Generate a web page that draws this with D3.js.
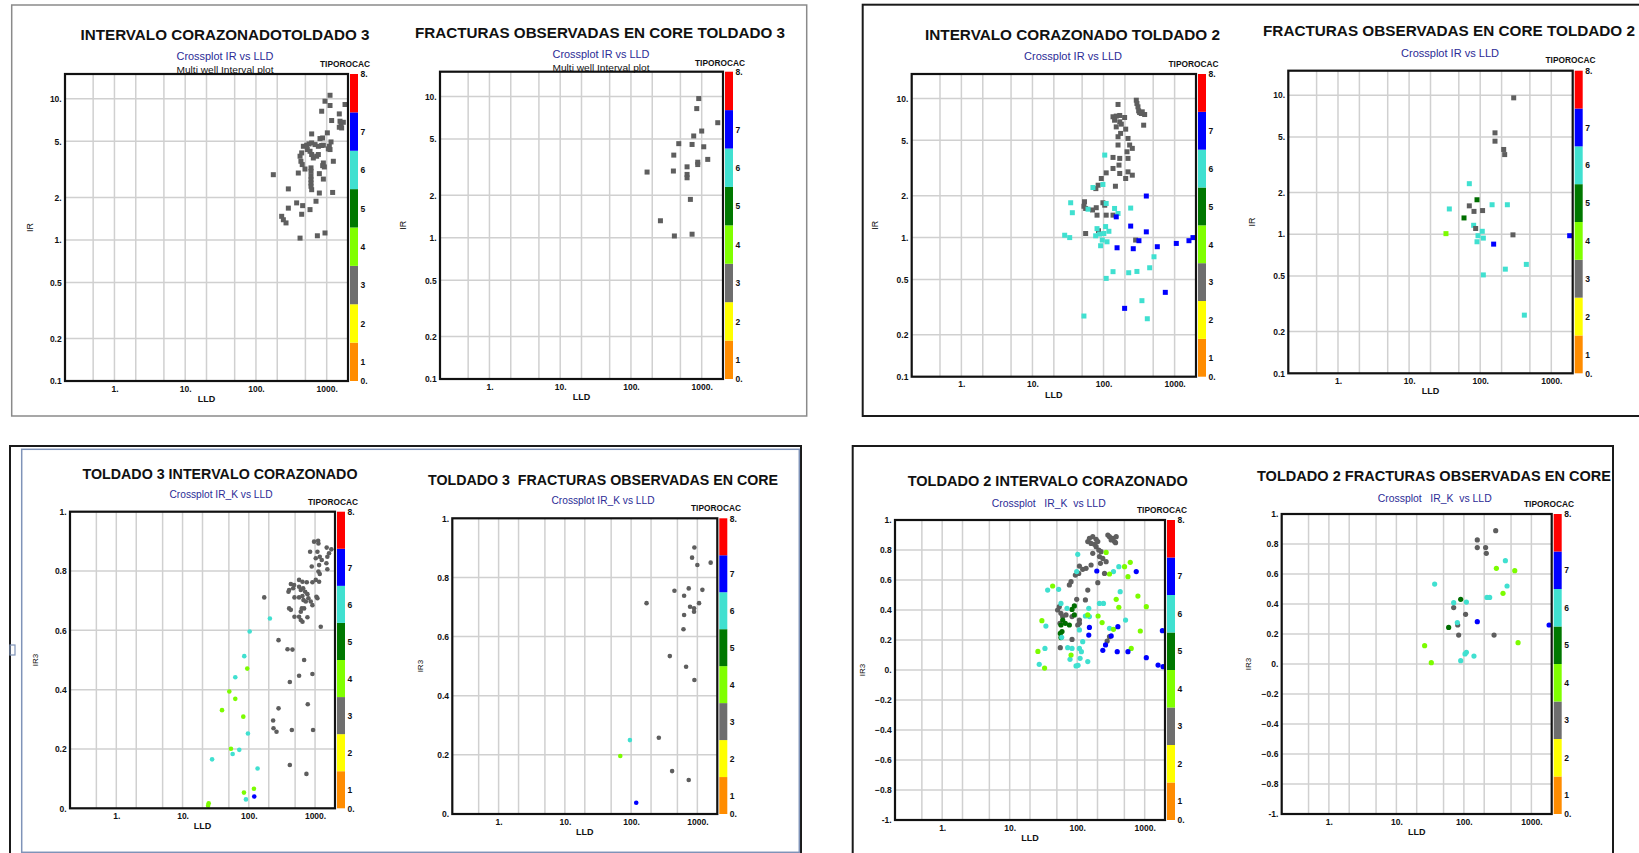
<!DOCTYPE html>
<html><head><meta charset="utf-8">
<script src="https://cdn.jsdelivr.net/npm/d3@7/dist/d3.min.js"></script>
<style>body{margin:0;background:#fff;}svg{display:block;font-family:"Liberation Sans",Arial,sans-serif;}</style>
</head><body><svg id="c" width="1639" height="853"></svg>
<script>
// ---------- axis / legend values ----------
const X_TICKS = [1, 10, 100, 1000];
const X_GRID = [0.5, 1, 2, 5, 10, 20, 50, 100, 200, 500, 1000];
const Y_TICKS_LOG = [0.1, 0.2, 0.5, 1, 2, 5, 10];
const Y_TICKS_01 = [0, 0.2, 0.4, 0.6, 0.8, 1];
const Y_TICKS_PM1 = [-1, -0.8, -0.6, -0.4, -0.2, 0, 0.2, 0.4, 0.6, 0.8, 1];
const TIPO_CLASSES = [1, 2, 3, 4, 5, 6, 7, 8];
const TIPO_COLORS = ["#ff8c00", "#ffff00", "#6e6e6e", "#80ff00", "#007800", "#40e0d0", "#0000ff", "#ff0000"];
const POINT_COLORS = {3: "#5e5e5e", 4: "#7cfc00", 5: "#006e00", 6: "#40e0d0", 7: "#0000ff"};

// ---------- data: [LLD, IR or IR3, TIPOROCAC] ----------
const T3_CORED_IR = [
 [1114,10.6,3],[946,9.62,3],[1114,8.97,3],[849,8.17,3],[1815,9.12,3],[1507,7.82,3],[1175,7.02,3],[1542,6.94,3],[1592,6.57,3],[1507,6.29,3],[1626,6.22,3],[1718,6.82,3],
 [613,5.64,3],[1021,5.74,3],[877,5.28,3],[804,5.23,3],[1151,4.95,3],[613,4.87,3],[562,4.79,3],[521,4.69,3],[468,4.61,3],[532,4.37,3],
 [684,4.74,3],[762,4.61,3],[849,4.67,3],[897,4.69,3],[1089,4.61,3],[1114,4.37,3],[1054,4.42,3],
 [420,3.92,3],[443,4.14,3],[432,3.61,3],[451,3.42,3],[493,3.18,3],[581,4.25,3],[613,4.03,3],[647,3.81,3],[721,3.92,3],[762,4.03,3],
 [897,3.51,3],[927,3.29,3],[877,3.36,3],[1241,3.61,3],[397,2.98,3],[176,2.90,3],
 [600,3.24,3],[600,3.06,3],[600,2.83,3],[600,2.67,3],[600,2.53,3],[600,2.40,3],[787,2.95,3],[897,2.70,3],[287,2.30,3],
 [613,2.27,3],[787,2.15,3],[1213,2.17,3],[376,1.83,3],[457,1.75,3],[287,1.68,3],[443,1.52,3],[581,1.64,3],[706,1.88,3],
 [231,1.47,3],[244,1.39,3],[266,1.32,3],[420,1.03,3],[738,1.07,3],[946,1.12,3]
];
const T3_CORE_FRACT_IR = [
 [908,9.68,3],[851,8.22,3],[1686,6.53,3],[1000,5.7,3],[771,5.26,3],[474,4.64,3],[731,4.58,3],[1069,4.41,3],[403,3.85,3],[1217,3.59,3],
 [879,3.43,3],[879,3.3,3],[621,3.18,3],[621,2.81,3],[621,2.66,3],[169,2.92,3],[398,2.97,3],[692,1.87,3],[261,1.32,3],[411,1.03,3],[731,1.06,3]
];
const T2_CORED_IR = [
 [160,9.06,3],[289,9.72,3],[295,9.21,3],[305,8.71,3],[312,8.15,3],[340,7.8,3],[379,7.67,3],[351,8.02,3],[322,7.93,3],[367,6.43,3],
 [136,7.39,3],[151,7.47,3],[169,7.55,3],[198,7.3,3],[143,6.98,3],[169,6.79,3],[151,6.25,3],[178,6.54,3],[205,6.02,3],[174,5.61,3],
 [160,5.31,3],[221,5.16,3],[233,4.63,3],[254,4.38,3],[160,4.63,3],[214,4.14,3],[136,3.77,3],[169,3.71,3],[221,3.71,3],[165,3.32,3],
 [136,3.14,3],[109,2.92,3],[93,2.66,3],[84,2.38,3],[78,2.25,3],[169,2.89,3],[221,2.97,3],[254,2.81,3],[205,2.66,3],[147,2.34,3],
 [54,1.81,3],[53,1.68,3],[56,1.62,3],[79,1.64,3],[70,1.58,3],[98,1.78,3],[104,1.71,3],[81,1.45,3],[109,1.45,3],[136,1.45,3],[56,1.07,3],[85,1.12,3],[283,0.96,3],
 [104,3.92,6],[71,2.29,6],[98,2.41,6],[34.5,1.78,6],[36.4,1.51,6],[60.5,1.6,6],[109,1.76,6],[143,1.62,6],[160,1.49,6],[241,1.63,6],
 [81,1.16,6],[107,1.2,6],[119,1.11,6],[28.4,1.04,6],[33.4,1.0,6],[77.5,1.03,6],[88,1.06,6],[96,0.96,6],[112,0.933,6],[91,0.874,6],
 [101,1.07,6],[513,0.728,6],[446,0.607,6],[136,0.569,6],[226,0.559,6],[295,0.571,6],[109,0.509,6],[347,0.352,6],[53,0.273,6],[413,0.261,6],
 [400,1.99,7],[151,1.41,7],[241,1.21,7],[400,1.1,7],[315,0.95,7],[155,0.845,7],[262,0.832,7],[571,0.86,7],[1057,0.908,7],[1592,0.95,7],
 [1813,1.0,7],[740,0.404,7],[198,0.31,7]
];
const T2_CORE_FRACT_IR = [
 [296,9.57,3],[161.5,5.36,3],[161.5,4.67,3],[214,4.07,3],[221,3.74,3],[70.3,2.31,6],[90.2,1.77,5],[70.3,1.60,3],[81.8,1.46,3],[108,1.48,3],
 [147,1.63,6],[241,1.63,6],[36.8,1.52,6],[59.2,1.31,5],[80.9,1.16,6],[86.3,1.10,3],[33.0,1.01,4],[107,1.05,6],[93.1,0.976,6],[110.7,0.938,6],
 [90.2,0.883,6],[289,0.99,3],[154.6,0.849,7],[1813,0.976,7],[225.6,0.561,6],[445.6,0.607,6],[110.7,0.51,6],[417.8,0.262,6]
];
const T3_CORED_IRK = [
 [966,0.899,3],[1112,0.902,3],[1125,0.893,3],[842,0.865,3],[1086,0.865,3],[1499,0.879,3],[1762,0.873,3],[1626,0.860,3],[1025,0.843,3],[1178,0.848,3],
 [1262,0.837,3],[1534,0.848,3],[891,0.815,3],[1151,0.820,3],[1483,0.826,3],[1534,0.806,3],[1125,0.798,3],[1178,0.790,3],[1025,0.770,3],[1151,0.764,3],
 [1086,0.708,3],[574,0.770,3],[646,0.764,3],[750,0.762,3],[912,0.762,3],[431,0.756,3],[483,0.753,3],[467,0.742,3],[406,0.736,3],[397,0.730,3],
 [574,0.747,3],[609,0.736,3],[661,0.742,3],[708,0.730,3],[767,0.722,3],[794,0.708,3],[861,0.697,3],[912,0.685,3],[1049,0.713,3],[489,0.711,3],
 [574,0.711,3],[646,0.716,3],[668,0.702,3],[725,0.697,3],[631,0.674,3],[609,0.663,3],[574,0.646,3],[609,0.635,3],[646,0.629,3],[767,0.644,3],
 [684,0.674,3],[406,0.674,3],[431,0.669,3],[489,0.646,3],[171,0.711,3],[1219,0.612,3],[281,0.567,3],[384,0.536,3],[456,0.535,3],[684,0.5,3],
 [574,0.447,3],[912,0.453,3],[416,0.426,3],[776,0.351,3],[281,0.337,3],[233,0.296,3],[236,0.270,3],[262,0.258,3],[446,0.264,3],[933,0.264,3],
 [416,0.146,3],[741,0.116,3],
 [208,0.640,6],[103,0.596,6],[85.4,0.513,6],[62.5,0.442,6],[97,0.252,6],[71.8,0.197,6],[57,0.183,6],[27.9,0.165,6],[135.6,0.134,6],[90.5,0.030,6],
 [94.8,0.471,4],[50.8,0.394,4],[62.5,0.369,4],[39.4,0.331,4],[82.6,0.309,4],[53.8,0.201,4],[84.5,0.053,4],[119.5,0.066,4],[24.8,0.017,4],[24.3,0.009,4],
 [120.8,0.040,7]
];
const T3_CORE_FRACT_IRK = [
 [902,0.901,3],[832,0.867,3],[1000,0.842,3],[1589,0.850,3],[451,0.755,3],[741,0.763,3],[631,0.738,3],[1191,0.758,3],[171,0.713,3],[776,0.701,3],
 [891,0.696,3],[891,0.684,3],[1061,0.713,3],[631,0.673,3],[617,0.625,3],[384,0.534,3],[676,0.498,3],[902,0.453,3],[262,0.258,3],[416,0.145,3],[741,0.115,3],
 [95.9,0.25,6],[68.6,0.196,4],[119.5,0.038,7]
];
const T2_CORED_IRK = [
 [151.8,0.878,3],[170.2,0.889,3],[190.9,0.871,3],[143.5,0.856,3],[160.7,0.844,3],[180.3,0.838,3],[202,0.856,3],[190.9,0.822,3],[209,0.8,3],[226,0.789,3],
 [170.2,0.778,3],[213.8,0.756,3],[239.6,0.744,3],[268.7,0.722,3],[221,0.711,3],[284.6,0.9,3],[301,0.889,3],[338,0.878,3],[378.5,0.889,3],[357,0.856,3],
 [319,0.867,3],[370,0.849,3],[160.7,0.7,3],[135.5,0.678,3],[120.8,0.671,3],[107.9,0.693,3],[105.4,0.644,3],[94,0.633,3],[81.1,0.589,3],[76.6,0.567,3],
 [143.5,0.533,3],[202,0.582,3],[254,0.644,3],[98.4,0.471,3],[132.4,0.467,3],[54.4,0.422,3],[51.3,0.4,3],[57.5,0.378,3],[61,0.356,3],[68.3,0.367,3],
 [83.9,0.356,3],[107.9,0.333,3],[107.9,0.311,3],[101.9,0.3,3],[55.6,0.311,3],[83.9,0.204,3],[56.2,0.149,3],[278,0.193,3],[301,0.222,3],
 [90.8,0.427,5],[61,0.333,5],[66.7,0.311,5],[57.5,0.3,5],[76.6,0.3,5],[59.6,0.256,5],[57.5,0.216,5],[56.2,0.244,5],[83.9,0.404,5],[90.8,0.367,5],
 [101.9,0.771,6],[98.4,0.656,6],[36.5,0.533,6],[53.1,0.538,6],[57.5,0.444,6],[70.7,0.411,6],[148.5,0.411,6],[213.8,0.444,6],[245.2,0.444,6],[151.8,0.356,6],
 [132.4,0.36,6],[434,0.522,6],[521,0.333,6],[301,0.278,6],[107.9,0.267,6],[120.8,0.189,6],[83.9,0.144,6],[107.9,0.144,6],[115.4,0.122,6],[78.3,0.071,6],
 [110.4,0.078,6],[143.5,0.056,6],[96.2,0.027,6],[103,0.031,6],[27.4,0.038,6],[33.3,0.144,6],[34.4,0.293,6],[58.9,0.218,6],[72.3,0.149,6],[414,0.689,6],[345,0.656,6],
 [268.7,0.784,4],[301,0.64,4],[503,0.689,4],[611,0.718,4],[565,0.622,4],[43.3,0.56,4],[378.5,0.471,4],[414,0.418,4],[794,0.493,4],[1057,0.422,4],
 [204,0.36,4],[234,0.316,4],[345,0.271,4],[861,0.26,4],[632,0.144,4],[30,0.329,4],[26.2,0.124,4],[32.9,0.013,4],[81.1,0.1,4],[143.5,0.367,4],
 [195.2,0.66,7],[750,0.656,7],[151.8,0.284,7],[148.5,0.233,7],[319,0.227,7],[401,0.289,7],[263,0.167,7],[239.6,0.131,7],[392,0.122,7],[565,0.122,7],
 [1057,0.082,7],[1578,0.033,7],[1871,0.022,7],[1829,0.262,7]
];
const T2_CORE_FRACT_IRK = [
 [296,0.889,3],[158,0.827,3],[158,0.776,3],[210,0.776,3],[215,0.738,3],[70.6,0.376,3],[106,0.331,3],[81,0.26,3],[83.7,0.193,3],[280,0.193,3],
 [412,0.689,6],[36.9,0.533,6],[436,0.52,6],[220,0.444,6],[241,0.444,6],[70.6,0.409,6],[109,0.413,6],[80,0.276,6],[109,0.078,6],[104,0.067,6],[141,0.053,6],[89.7,0.022,6],
 [89.7,0.431,5],[59.5,0.244,5],
 [303,0.638,4],[567,0.622,4],[380,0.471,4],[635,0.142,4],[26.2,0.122,4],[32.9,0.009,4],
 [158,0.282,7],[1830,0.26,7]
];

// ---------- layout ----------
const PANELS = [
 {data:T3_CORED_IR, title:"INTERVALO CORAZONADOTOLDADO 3", tw:289, tx:225, ty:40, sub:"Crossplot IR vs LLD", sw:97, sx:225, sy:60, multi:72.5,
  tpx:345, tpy:67, yl:"IR", ylx:30, ymode:"log", x0:65, x1:348, y0:74, y1:381, mk:"sq"},
 {data:T3_CORE_FRACT_IR, title:"FRACTURAS OBSERVADAS EN CORE TOLDADO 3", tw:370, tx:600, ty:38, sub:"Crossplot IR vs LLD", sw:97, sx:601, sy:58, multi:71,
  tpx:720, tpy:65.5, yl:"IR", ylx:403, ymode:"log", x0:440, x1:723, y0:71.7, y1:379, mk:"sq"},
 {data:T2_CORED_IR, title:"INTERVALO CORAZONADO TOLDADO 2", tw:295, tx:1072.5, ty:40, sub:"Crossplot IR vs LLD", sw:98, sx:1073, sy:60,
  tpx:1193.5, tpy:66.7, yl:"IR", ylx:875, ymode:"log", x0:911.7, x1:1196, y0:74, y1:376.7, mk:"sq"},
 {data:T2_CORE_FRACT_IR, title:"FRACTURAS OBSERVADAS EN CORE TOLDADO 2", tw:372, tx:1449, ty:36, sub:"Crossplot IR vs LLD", sw:98, sx:1450, sy:57,
  tpx:1570.5, tpy:63.3, yl:"IR", ylx:1251.7, ymode:"log", x0:1288.3, x1:1572.7, y0:70.7, y1:373.3, mk:"sq"},
 {data:T3_CORED_IRK, title:"TOLDADO 3 INTERVALO CORAZONADO", tw:275, tx:220, ty:479, sub:"Crossplot IR_K vs LLD", sw:103, sx:221, sy:498,
  tpx:333, tpy:505, yl:"IR3", ylx:35, ymode:"01", x0:70, x1:335, y0:511.7, y1:808.3, mk:"c", r:2.3},
 {data:T3_CORE_FRACT_IRK, title:"TOLDADO 3  FRACTURAS OBSERVADAS EN CORE", tw:350, tx:603, ty:485, sub:"Crossplot IR_K vs LLD", sw:103, sx:603, sy:504,
  tpx:716, tpy:511, yl:"IR3", ylx:420, ymode:"01", x0:452.3, x1:717.3, y0:518.3, y1:814, mk:"c", r:2.3},
 {data:T2_CORED_IRK, title:"TOLDADO 2 INTERVALO CORAZONADO", tw:280, tx:1047.7, ty:486, sub:"Crossplot   IR_K  vs LLD", sw:114, sx:1048.7, sy:506.7,
  tpx:1162, tpy:512.7, yl:"IR3", ylx:861.7, ymode:"pm1", x0:895, x1:1165, y0:520, y1:820, mk:"c", r:2.6},
 {data:T2_CORE_FRACT_IRK, title:"TOLDADO 2 FRACTURAS OBSERVADAS EN CORE", tw:354, tx:1434, ty:480.7, sub:"Crossplot   IR_K  vs LLD", sw:114, sx:1434.7, sy:501.7,
  tpx:1549, tpy:506.7, yl:"IR3", ylx:1248.3, ymode:"pm1", x0:1281.7, x1:1551.7, y0:514, y1:814, mk:"c", r:2.6}
];

const svg = d3.select("#c");

// ---------- enclosing boxes ----------
svg.append("rect").attr("x",11.7).attr("y",5).attr("width",795).attr("height",411)
  .attr("fill","none").attr("stroke","#8a8a8a").attr("stroke-width",1.5);
svg.append("rect").attr("x",862.7).attr("y",4.7).attr("width",800).attr("height",411.3)
  .attr("fill","none").attr("stroke","#1a1a1a").attr("stroke-width",2);
svg.append("path").attr("d","M10,860 V446 H801 V860").attr("fill","none").attr("stroke","#1a1a1a").attr("stroke-width",2);
svg.append("rect").attr("x",21.7).attr("y",449.3).attr("width",777.6).attr("height",403)
  .attr("fill","none").attr("stroke","#7f93b8").attr("stroke-width",1.5);
svg.append("rect").attr("x",10).attr("y",645).attr("width",5).attr("height",10)
  .attr("fill","none").attr("stroke","#7f93b8").attr("stroke-width",1.2);
svg.append("path").attr("d","M852.7,860 V446 H1613 V860").attr("fill","none").attr("stroke","#1a1a1a").attr("stroke-width",2);

const fmtLog = d => d < 1 ? String(d) : d + ".";
const fmtLin = d => (Math.abs(d - Math.round(d)) < 1e-9) ? Math.round(d) + "." : d3.format(".1f")(d);

PANELS.forEach((P, i) => {
  const g = svg.append("g");
  const x = d3.scaleLog().domain([0.2, 2000]).range([P.x0, P.x1]);
  let y, yTicks, yGrid, yFmt;
  if (P.ymode === "log") {
    y = d3.scaleLog().domain([0.1, 15]).range([P.y1, P.y0]);
    yTicks = Y_TICKS_LOG; yGrid = Y_TICKS_LOG.filter(d => d > 0.1); yFmt = fmtLog;
  } else if (P.ymode === "01") {
    y = d3.scaleLinear().domain([0, 1]).range([P.y1, P.y0]);
    yTicks = Y_TICKS_01; yGrid = Y_TICKS_01.filter(d => d > 0 && d < 1); yFmt = fmtLin;
  } else {
    y = d3.scaleLinear().domain([-1, 1]).range([P.y1, P.y0]);
    yTicks = Y_TICKS_PM1; yGrid = Y_TICKS_PM1.filter(d => d > -1 && d < 1); yFmt = fmtLin;
  }
  // grid
  g.append("g").selectAll("line").data(X_GRID).join("line")
    .attr("x1", d => x(d)).attr("x2", d => x(d)).attr("y1", P.y0).attr("y2", P.y1)
    .attr("stroke", "#d0d0d0").attr("stroke-width", 1.5);
  g.append("g").selectAll("line").data(yGrid).join("line")
    .attr("y1", d => y(d)).attr("y2", d => y(d)).attr("x1", P.x0).attr("x2", P.x1)
    .attr("stroke", "#d0d0d0").attr("stroke-width", 1.5);

  // points
  const cid = "clip" + i;
  svg.append("clipPath").attr("id", cid).append("rect")
    .attr("x", P.x0).attr("y", P.y0).attr("width", P.x1 - P.x0).attr("height", P.y1 - P.y0);
  const pg = g.append("g").attr("clip-path", `url(#${cid})`);
  if (P.mk === "sq") {
    pg.selectAll("rect").data(P.data).join("rect")
      .attr("x", d => x(d[0]) - 2.5).attr("y", d => y(d[1]) - 2.5)
      .attr("width", 5).attr("height", 5).attr("fill", d => POINT_COLORS[d[2]]);
  } else {
    pg.selectAll("circle").data(P.data).join("circle")
      .attr("cx", d => x(d[0])).attr("cy", d => y(d[1])).attr("r", P.r)
      .attr("fill", d => POINT_COLORS[d[2]]);
  }

  // texts above frame
  if (P.multi) {
    g.append("text").attr("x", P.sx).attr("y", P.multi).attr("text-anchor","middle")
      .attr("font-size", 9.5).attr("fill", "#111").attr("textLength", 97).attr("lengthAdjust","spacingAndGlyphs")
      .text("Multi well Interval plot");
  }
  // frame
  g.append("rect").attr("x", P.x0).attr("y", P.y0).attr("width", P.x1 - P.x0).attr("height", P.y1 - P.y0)
    .attr("fill", "none").attr("stroke", "#111").attr("stroke-width", 2.2);

  // axes
  const ax = g.append("g").attr("transform", `translate(0,${P.y1})`)
    .call(d3.axisBottom(x).tickValues(X_TICKS).tickFormat(d => d + ".").tickSize(0).tickPadding(4.5));
  const ay = g.append("g").attr("transform", `translate(${P.x0},0)`)
    .call(d3.axisLeft(y).tickValues(yTicks).tickFormat(yFmt).tickSize(0).tickPadding(3.3));
  [ax, ay].forEach(a => {
    a.select(".domain").remove();
    a.selectAll("text").attr("font-size", 8.5).attr("font-weight", "bold").attr("fill", "#111")
      .attr("font-family", '"Liberation Sans",Arial,sans-serif');
  });

  g.append("text").attr("x", (P.x0 + P.x1) / 2).attr("y", P.y1 + 21).attr("text-anchor", "middle")
    .attr("font-size", 9).attr("font-weight", "bold").attr("fill", "#111").text("LLD");
  g.append("text").attr("transform", `translate(${P.ylx},${(P.y0 + P.y1) / 2}) rotate(-90)`)
    .attr("text-anchor", "middle").attr("dy", "0.35em")
    .attr("font-size", P.yl === "IR" ? 9 : 8).attr("fill", "#111").text(P.yl);

  // colour bar
  const c = d3.scaleLinear().domain([0, 8]).range([P.y1, P.y0]);
  const cbx = P.x1 + 2, cbw = 8;
  g.append("g").selectAll("rect").data(TIPO_CLASSES).join("rect")
    .attr("x", cbx).attr("width", cbw).attr("y", d => c(d)).attr("height", d => c(d - 1) - c(d))
    .attr("fill", (d, k) => TIPO_COLORS[k]);
  const cbTicks = [0].concat(TIPO_CLASSES.slice(0, 7).map(d => d - 0.5)).concat([8]);
  const ac = g.append("g").attr("transform", `translate(${cbx + cbw},0)`)
    .call(d3.axisRight(c).tickValues(cbTicks)
      .tickFormat(d => (d === 0 || d === 8) ? d + "." : String(d + 0.5)).tickSize(0).tickPadding(2.5));
  ac.select(".domain").remove();
  ac.selectAll("text").attr("font-size", 8.5).attr("font-weight", "bold").attr("fill", "#111")
    .attr("font-family", '"Liberation Sans",Arial,sans-serif');

  // titles
  g.append("text").attr("x", P.tx).attr("y", P.ty).attr("text-anchor", "middle")
    .attr("font-size", 15).attr("font-weight", "bold").attr("fill", "#111")
    .attr("textLength", P.tw).attr("lengthAdjust", "spacingAndGlyphs")
    .style("white-space", "pre").text(P.title);
  g.append("text").attr("x", P.sx).attr("y", P.sy).attr("text-anchor", "middle")
    .attr("font-size", 11).attr("fill", "#2b2b96")
    .attr("textLength", P.sw).attr("lengthAdjust", "spacingAndGlyphs")
    .style("white-space", "pre").text(P.sub);
  g.append("text").attr("x", P.tpx).attr("y", P.tpy).attr("text-anchor", "middle")
    .attr("font-size", 9.5).attr("font-weight", "bold").attr("fill", "#111")
    .attr("textLength", 50).attr("lengthAdjust", "spacingAndGlyphs").text("TIPOROCAC");
});
</script></body></html>
